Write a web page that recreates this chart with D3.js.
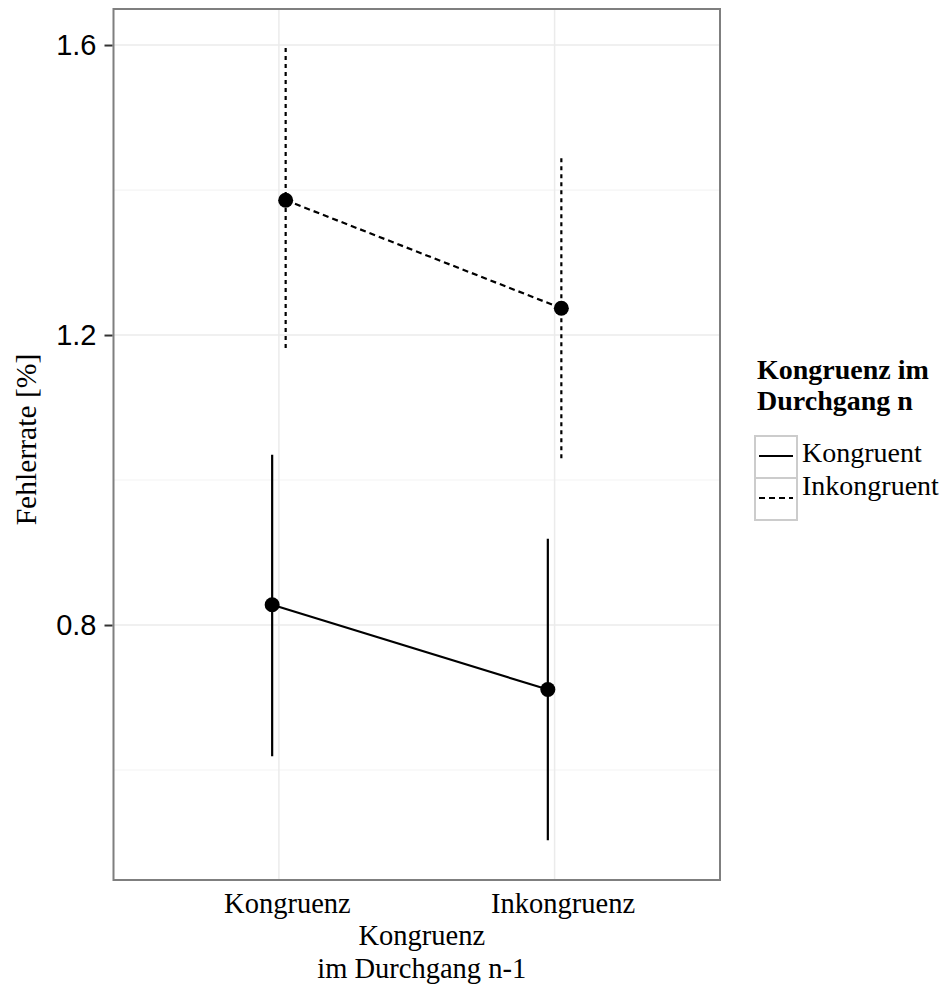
<!doctype html>
<html>
<head>
<meta charset="utf-8">
<script src="https://d3js.org/d3.v7.min.js"></script>
<style>
  body { margin: 0; background: #fff; }
  .serif { font-family: "Liberation Serif", "Times New Roman", serif; }
</style>
</head>
<body>
<svg width="949" height="985"></svg>
<script>
    // data
    var categories = ["Kongruenz", "Inkongruenz"];
    var series = ["Kongruent", "Inkongruent"];
    var meanKongruent = [0.828, 0.711];
    var lowerKongruent = [0.619, 0.503];
    var upperKongruent = [1.035, 0.919];
    var meanInkongruent = [1.386, 1.237];
    var lowerInkongruent = [1.179, 1.029];
    var upperInkongruent = [1.596, 1.444];
    var yTicks = [0.8, 1.2, 1.6];
    var yMinor = [0.6, 1.0, 1.4];

    var svg = d3.select("svg");
    var pLeft = 113.5, pRight = 720, pTop = 9, pBottom = 880;

    var x = d3.scalePoint().domain(categories).range([pLeft, pRight]).padding(0.6);
    var y = d3.scaleLinear().domain([0.4483, 1.6497]).range([pBottom, pTop]);
    var dodge = x.step() * 0.0245;

    var data = [
        { name: series[0], dash: null, bar: null, off: -dodge,
          mean: meanKongruent, lo: lowerKongruent, hi: upperKongruent },
        { name: series[1], dash: "6,4", bar: "4,4", off: dodge,
          mean: meanInkongruent, lo: lowerInkongruent, hi: upperInkongruent }
    ];

    // panel background + grid
    svg.append("rect").attr("x", pLeft).attr("y", pTop)
       .attr("width", pRight - pLeft).attr("height", pBottom - pTop).attr("fill", "#fff");

    svg.selectAll(".minor").data(yMinor).enter().append("line")
       .attr("x1", pLeft).attr("x2", pRight)
       .attr("y1", function(d) { return y(d); }).attr("y2", function(d) { return y(d); })
       .attr("stroke", "#f4f4f4").attr("stroke-width", 1.2);

    svg.selectAll(".major").data(yTicks).enter().append("line")
       .attr("x1", pLeft).attr("x2", pRight)
       .attr("y1", function(d) { return y(d); }).attr("y2", function(d) { return y(d); })
       .attr("stroke", "#ebebeb").attr("stroke-width", 1.5);

    svg.selectAll(".vgrid").data(categories).enter().append("line")
       .attr("x1", function(d) { return x(d); }).attr("x2", function(d) { return x(d); })
       .attr("y1", pTop).attr("y2", pBottom)
       .attr("stroke", "#ebebeb").attr("stroke-width", 1.5);

    // error bars, lines, points
    data.forEach(function(s) {
        var g = svg.append("g");
        g.selectAll("line").data(categories).enter().append("line")
         .attr("x1", function(d) { return x(d) + s.off; })
         .attr("x2", function(d) { return x(d) + s.off; })
         .attr("y1", function(d, i) { return y(s.hi[i]); })
         .attr("y2", function(d, i) { return y(s.lo[i]); })
         .attr("stroke", "#000").attr("stroke-width", 2.2)
         .attr("stroke-dasharray", s.bar);

        var line = d3.line()
            .x(function(d) { return x(d) + s.off; })
            .y(function(d, i) { return y(s.mean[i]); });
        g.append("path").datum(categories)
         .attr("d", line).attr("fill", "none")
         .attr("stroke", "#000").attr("stroke-width", 2.2)
         .attr("stroke-dasharray", s.dash);

        g.selectAll("circle").data(categories).enter().append("circle")
         .attr("cx", function(d) { return x(d) + s.off; })
         .attr("cy", function(d, i) { return y(s.mean[i]); })
         .attr("r", 7.5).attr("fill", "#000");
    });

    // panel border
    svg.append("rect").attr("x", pLeft).attr("y", pTop)
       .attr("width", pRight - pLeft).attr("height", pBottom - pTop)
       .attr("fill", "none").attr("stroke", "#7f7f7f").attr("stroke-width", 2);

    // y axis
    var yAxis = svg.append("g")
       .attr("transform", "translate(" + (pLeft - 1) + ",0)")
       .call(d3.axisLeft(y).tickValues(yTicks).tickSize(8).tickPadding(8)
             .tickFormat(d3.format(".1f")));
    yAxis.select(".domain").remove();
    yAxis.selectAll(".tick line").attr("stroke", "#333").attr("stroke-width", 2);
    yAxis.selectAll(".tick text").attr("fill", "#000")
       .style("font-family", "'Liberation Sans', Arial, sans-serif").style("font-size", "29px");

    // x axis (labels only, set a little right of the grid line as in the original)
    var xAxis = svg.append("g")
       .attr("transform", "translate(8," + pBottom + ")")
       .call(d3.axisBottom(x).tickSize(0).tickPadding(8));
    xAxis.select(".domain").remove();
    xAxis.selectAll(".tick text").attr("fill", "#000").attr("dy", "0").attr("y", 33)
       .attr("class", "serif").style("font-size", "28.5px");

    // axis titles
    var midX = (pLeft + pRight) / 2 + 5;
    var xt = svg.append("text").attr("class", "serif").attr("text-anchor", "middle")
       .style("font-size", "28.5px");
    xt.append("tspan").attr("x", midX).attr("y", 945).text("Kongruenz");
    xt.append("tspan").attr("x", midX).attr("y", 978).text("im Durchgang n-1");

    svg.append("text").attr("class", "serif").attr("text-anchor", "middle")
       .attr("transform", "translate(36," + ((pTop + pBottom) / 2 - 5) + ") rotate(-90)")
       .style("font-size", "29.6px").text("Fehlerrate [%]");

    // legend
    var lg = svg.append("g");
    var lt = lg.append("text").attr("class", "serif").style("font-size", "28px")
       .style("font-weight", "bold");
    lt.append("tspan").attr("x", 757).attr("y", 379).text("Kongruenz im");
    lt.append("tspan").attr("x", 757).attr("y", 410).text("Durchgang n");

    data.forEach(function(s, i) {
        var ky = 436 + i * 42;
        lg.append("rect").attr("x", 755).attr("y", ky).attr("width", 42).attr("height", 42)
          .attr("fill", "#fff").attr("stroke", "#cccccc").attr("stroke-width", 2);
        lg.append("line").attr("x1", 759).attr("x2", 793)
          .attr("y1", ky + 20).attr("y2", ky + 20)
          .attr("stroke", "#000").attr("stroke-width", 2.2)
          .attr("stroke-dasharray", s.dash);
        lg.append("text").attr("class", "serif").style("font-size", "28px")
          .attr("x", 802).attr("y", 462 + i * 33).text(s.name);
    });
</script>
</body>
</html>
